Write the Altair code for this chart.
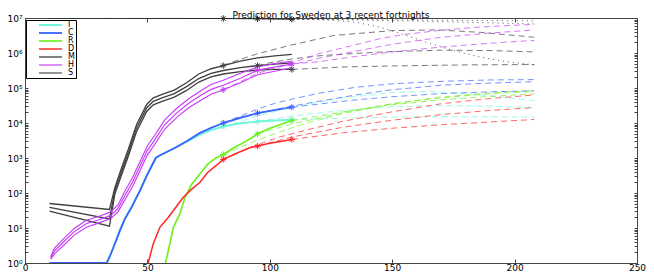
import altair as alt
import pandas as pd

# ---------------------------------------------------------------- categories
SERIES = ["I", "C", "R", "D", "M", "H", "S"]
COLORS = ["#6ff7dc", "#3a64ff", "#6ef020", "#ff2626", "#404040", "#c83cf8", "#2a2a2a"]
FIT_END = [81, 95, 109]
X_TICKS = [0, 50, 100, 150, 200, 250]
TITLE = "Prediction for Sweden at 3 recent fortnights"

# ---------------------------------------------------------------- solid curves
# values are read on the log axis (log10 of the count)
I_X = [10, 33.4, 35, 36.7, 38.8, 40.8, 43.5, 46.9, 49.7, 53.4, 55, 61, 66, 71.5, 76, 81, 88, 95, 102, 109]
I_LG = [0, 0, 0.25, 0.55, 0.93, 1.26, 1.59, 2.06, 2.49, 3.0, 3.07, 3.28, 3.46, 3.67, 3.8, 3.9, 3.99, 4.04, 4.07, 4.09]

C_X = [10, 33.4, 35, 36.7, 38.8, 40.8, 43.5, 46.9, 49.7, 53.4, 55, 61, 66, 71.3, 76, 81, 88, 95, 102, 109]
C_LG = [0, 0, 0.25, 0.55, 0.93, 1.26, 1.59, 2.06, 2.49, 3.0, 3.07, 3.28, 3.48, 3.71, 3.86, 4.0, 4.15, 4.28, 4.37, 4.45]

R_X = [57.4, 59.2, 60.6, 63.3, 65.3, 68.1, 71.4, 74.7, 78, 81, 85, 88, 92, 95, 100, 105, 109]
R_LG = [0, 0.56, 1.02, 1.41, 1.87, 2.25, 2.54, 2.83, 3.0, 3.1, 3.28, 3.39, 3.55, 3.69, 3.85, 3.97, 4.07]

D_X = [50.3, 52.4, 55.1, 58.5, 62, 64.6, 68.1, 71.4, 74.5, 78, 81, 86, 92, 95, 100, 105, 109]
D_LG = [0, 0.55, 1.02, 1.30, 1.63, 1.87, 2.11, 2.30, 2.58, 2.78, 2.96, 3.12, 3.3, 3.34, 3.42, 3.48, 3.53]

M_X = [10, 34.5, 36.7, 39.5, 42.2, 45.6, 49.7, 52.4, 56, 61, 66, 71, 76, 81, 88, 95, 102, 109]
M_TOP = [1.70, 1.53, 2.15, 2.73, 3.25, 3.96, 4.53, 4.72, 4.82, 4.94, 5.15, 5.40, 5.55, 5.64, 5.77, 5.86, 5.92, 5.96]
M_MID = [1.59, 1.26, 2.06, 2.63, 3.15, 3.86, 4.43, 4.62, 4.72, 4.84, 5.04, 5.27, 5.42, 5.50, 5.58, 5.64, 5.68, 5.72]
M_BOT = [1.48, 1.05, 1.97, 2.53, 3.05, 3.76, 4.33, 4.52, 4.62, 4.74, 4.93, 5.17, 5.32, 5.40, 5.47, 5.51, 5.53, 5.53]

H_X = [10.5, 12, 15, 20, 25, 30, 35, 38, 41, 44, 47, 50, 53, 57, 62, 67, 72, 76, 81, 88, 95, 102, 109]
H_TOP = [0.18, 0.42, 0.64, 0.98, 1.22, 1.33, 1.46, 1.66, 2.08, 2.45, 2.90, 3.35, 3.65, 4.08, 4.42, 4.70, 4.93, 5.10, 5.22, 5.42, 5.60, 5.70, 5.76]
H_MID = [0.14, 0.34, 0.55, 0.89, 1.12, 1.23, 1.36, 1.56, 1.95, 2.32, 2.77, 3.22, 3.52, 3.95, 4.29, 4.57, 4.80, 4.96, 5.08, 5.28, 5.51, 5.60, 5.68]
H_BOT = [0.10, 0.26, 0.45, 0.79, 1.02, 1.14, 1.27, 1.46, 1.83, 2.19, 2.64, 3.09, 3.39, 3.82, 4.16, 4.44, 4.66, 4.82, 4.95, 5.15, 5.38, 5.48, 5.58]

S_X = [10, 50, 81, 95, 109]
S_LG = [6.995, 6.993, 6.985, 6.978, 6.965]

# ---------------------------------------------------------------- predictions (one per fortnight)
I_P1_X = [81, 95, 109, 130, 150, 165, 180, 195, 208]
I_P1 = [3.9, 4.2, 4.45, 4.72, 4.87, 4.9, 4.84, 4.74, 4.64]
I_P2_X = [95, 109, 130, 150, 170, 190, 208]
I_P2 = [4.04, 4.2, 4.36, 4.46, 4.5, 4.48, 4.44]
I_P3_X = [109, 130, 150, 170, 190, 208]
I_P3 = [4.09, 4.14, 4.17, 4.18, 4.18, 4.17]

C_P1_X = [81, 88, 95, 102, 109, 120, 135, 150, 170, 190, 208]
C_P1 = [4.0, 4.2, 4.4, 4.56, 4.68, 4.85, 5.02, 5.12, 5.19, 5.23, 5.24]
C_P2_X = [95, 102, 109, 120, 135, 150, 170, 190, 208]
C_P2 = [4.28, 4.38, 4.48, 4.62, 4.8, 4.95, 5.08, 5.14, 5.18]
C_P3_X = [109, 120, 135, 150, 170, 190, 208]
C_P3 = [4.45, 4.54, 4.66, 4.75, 4.84, 4.89, 4.92]

R_P1_X = [81, 92, 103, 115, 130, 150, 170, 190, 208]
R_P1 = [3.1, 3.43, 3.72, 4.0, 4.27, 4.55, 4.74, 4.86, 4.93]
R_P2_X = [95, 109, 130, 150, 170, 190, 208]
R_P2 = [3.69, 3.97, 4.3, 4.55, 4.72, 4.84, 4.9]
R_P3_X = [109, 130, 150, 170, 190, 208]
R_P3 = [4.07, 4.32, 4.52, 4.66, 4.76, 4.83]

D_P1_X = [81, 92, 103, 116, 130, 150, 170, 190, 208]
D_P1 = [2.96, 3.3, 3.58, 3.82, 4.05, 4.32, 4.55, 4.7, 4.8]
D_P2_X = [95, 109, 130, 150, 170, 190, 208]
D_P2 = [3.34, 3.6, 3.88, 4.08, 4.24, 4.36, 4.44]
D_P3_X = [109, 130, 150, 170, 190, 208]
D_P3 = [3.53, 3.72, 3.85, 3.95, 4.03, 4.1]

M_P1_X = [81, 85, 95, 109, 126, 150, 169, 186, 208]
M_P1 = [5.64, 5.75, 5.98, 6.23, 6.5, 6.64, 6.66, 6.59, 6.45]
M_P2_X = [95, 100, 109, 120, 135, 150, 170, 190, 208]
M_P2 = [5.64, 5.72, 5.83, 5.92, 5.99, 6.04, 6.08, 6.07, 6.03]
M_P3_X = [109, 130, 150, 180, 208]
M_P3 = [5.53, 5.6, 5.63, 5.66, 5.67]

H_P1_X = [81, 95, 109, 120, 133, 145, 155, 170, 185, 208]
H_P1 = [4.95, 5.42, 5.72, 5.98, 6.2, 6.41, 6.53, 6.65, 6.74, 6.82]
H_P2_X = [95, 109, 120, 135, 150, 170, 190, 208]
H_P2 = [5.51, 5.66, 5.85, 6.05, 6.25, 6.45, 6.57, 6.66]
H_P3_X = [109, 120, 135, 150, 170, 190, 208]
H_P3 = [5.69, 5.75, 5.9, 6.03, 6.17, 6.28, 6.36]

S_P1_X = [81, 109, 125, 135, 145, 155, 165, 175, 185, 195, 208]
S_P1 = [6.985, 6.97, 6.94, 6.88, 6.74, 6.52, 6.28, 6.07, 5.9, 5.77, 5.66]
S_P2_X = [95, 130, 160, 185, 208]
S_P2 = [6.978, 6.95, 6.91, 6.87, 6.83]
S_P3_X = [109, 150, 180, 208]
S_P3 = [6.965, 6.95, 6.93, 6.92]

# ---------------------------------------------------------------- markers at the fortnight ends
MARK_I = [3.9, 4.04, 4.09]
MARK_C = [4.0, 4.28, 4.45]
MARK_R = [3.1, 3.69, 4.07]
MARK_D = [2.96, 3.34, 3.53]
MARK_M = [5.64, 5.64, 5.53]
MARK_H = [4.95, 5.51, 5.69]
MARK_S = [6.985, 6.978, 6.965]

# ---------------------------------------------------------------- build tables
def curve_rows(series, curve, xs, lgs):
    return [{"x": x, "v": 10 ** lg, "series": series, "curve": curve} for x, lg in zip(xs, lgs)]

solid_rows = []
solid_rows += curve_rows("I", "I0", I_X, I_LG)
solid_rows += curve_rows("C", "C0", C_X, C_LG)
solid_rows += curve_rows("R", "R0", R_X, R_LG)
solid_rows += curve_rows("D", "D0", D_X, D_LG)
solid_rows += curve_rows("M", "M1", M_X, M_TOP)
solid_rows += curve_rows("M", "M2", M_X, M_MID)
solid_rows += curve_rows("M", "M3", M_X, M_BOT)
solid_rows += curve_rows("H", "H1", H_X, H_TOP)
solid_rows += curve_rows("H", "H2", H_X, H_MID)
solid_rows += curve_rows("H", "H3", H_X, H_BOT)
solid_rows += curve_rows("S", "S0", S_X, S_LG)
solid_df = pd.DataFrame(solid_rows)

dash_rows = []
for s, pairs in [
    ("I", [(I_P1_X, I_P1), (I_P2_X, I_P2), (I_P3_X, I_P3)]),
    ("C", [(C_P1_X, C_P1), (C_P2_X, C_P2), (C_P3_X, C_P3)]),
    ("R", [(R_P1_X, R_P1), (R_P2_X, R_P2), (R_P3_X, R_P3)]),
    ("D", [(D_P1_X, D_P1), (D_P2_X, D_P2), (D_P3_X, D_P3)]),
    ("M", [(M_P1_X, M_P1), (M_P2_X, M_P2), (M_P3_X, M_P3)]),
    ("H", [(H_P1_X, H_P1), (H_P2_X, H_P2), (H_P3_X, H_P3)]),
]:
    for k, (xs, lgs) in enumerate(pairs):
        dash_rows += curve_rows(s, f"{s}p{k}", xs, lgs)
dash_df = pd.DataFrame(dash_rows)

dot_rows = []
for k, (xs, lgs) in enumerate([(S_P1_X, S_P1), (S_P2_X, S_P2), (S_P3_X, S_P3)]):
    dot_rows += curve_rows("S", f"Sp{k}", xs, lgs)
dot_df = pd.DataFrame(dot_rows)

mark_rows = []
for s, vals in zip(SERIES, [MARK_I, MARK_C, MARK_R, MARK_D, MARK_M, MARK_H, MARK_S]):
    for x, lg in zip(FIT_END, vals):
        mark_rows.append({"x": x, "v": 10 ** lg, "series": s})
mark_df = pd.DataFrame(mark_rows)

# ---------------------------------------------------------------- scales & axes
FONT = "DejaVu Sans"
x_scale = alt.Scale(domain=[0, 250], nice=False, zero=False)
y_scale = alt.Scale(type="log", domain=[1, 1e7], nice=False)
color_scale = alt.Scale(domain=SERIES, range=COLORS)

Y_ALL = [m * 10 ** k for k in range(7) for m in range(1, 10)] + [10 ** 7]
is_major = "abs(log(datum.value)/LN10 - round(log(datum.value)/LN10)) < 0.001"
y_label_expr = (is_major + " ? '10' + ['\u2070','\u00b9','\u00b2','\u00b3','\u2074','\u2075','\u2076','\u2077']"
                "[round(log(datum.value)/LN10)] : ''")

left_axis = alt.Axis(orient="left", values=Y_ALL, labelExpr=y_label_expr, title=None,
                     tickSize=alt.ExprRef(expr="-3"), labelPadding=6, domain=False, grid=False,
                     labelFont=FONT, labelFontSize=9, labelColor="black", tickColor="#444",
                     labelOverlap=False, labelBound=False, labelFlush=False)
bottom_axis = alt.Axis(orient="bottom", values=X_TICKS, title=None,
                       tickSize=alt.ExprRef(expr="-4"), labelPadding=4, domain=False, grid=False,
                       labelFont=FONT, labelFontSize=9, labelColor="black", tickColor="#444",
                       labelFlush=False, labelOverlap=False)
right_axis = alt.Axis(orient="right", values=Y_ALL, labels=False, title=None,
                      tickSize=alt.ExprRef(expr="-3"), domain=False, grid=False, tickColor="#444")
top_axis = alt.Axis(orient="top", values=X_TICKS, labels=False, title=None,
                    tickSize=alt.ExprRef(expr="-4"), domain=False, grid=False, tickColor="#444")

legend = alt.Legend(title=None, orient="none", legendX=1, legendY=2,
                    symbolType="M-3.83,0H3.83", symbolSize=36, symbolStrokeWidth=1,
                    symbolOffset=19.5, labelOffset=13.5, labelFont=FONT, labelFontSize=8,
                    labelColor="black", fillColor="white", strokeColor="black",
                    padding=1, rowPadding=0,
                    labelExpr="datum.label + '\u00a0\u00a0\u00a0\u00a0\u00a0\u00a0'")

solid = alt.Chart(solid_df).mark_line(clip=True).encode(
    x=alt.X("x:Q", scale=x_scale, axis=bottom_axis),
    y=alt.Y("v:Q", scale=y_scale, axis=left_axis),
    color=alt.Color("series:N", scale=color_scale, legend=legend),
    strokeWidth=alt.StrokeWidth("series:N", scale=alt.Scale(domain=SERIES, range=[2, 1, 2.6, 1, 1, 1, 1]), legend=None),
    detail="curve:N",
)

dashed = alt.Chart(dash_df).mark_line(clip=True, strokeDash=[6, 4], strokeWidth=1, opacity=0.7).encode(
    x=alt.X("x:Q", scale=x_scale, axis=None),
    y=alt.Y("v:Q", scale=y_scale, axis=None),
    color=alt.Color("series:N", scale=color_scale, legend=None),
    detail="curve:N",
)

dotted = alt.Chart(dot_df).mark_line(clip=True, strokeDash=[1, 4], strokeWidth=1, opacity=0.8).encode(
    x=alt.X("x:Q", scale=x_scale, axis=None),
    y=alt.Y("v:Q", scale=y_scale, axis=None),
    color=alt.Color("series:N", scale=color_scale, legend=None),
    detail="curve:N",
)

ASTERISK = "M-1,0L1,0M0,-1L0,1M-0.7,-0.7L0.7,0.7M-0.7,0.7L0.7,-0.7"
markers = alt.Chart(mark_df).mark_point(shape=ASTERISK, filled=False, size=40, strokeWidth=1, opacity=1).encode(
    x=alt.X("x:Q", scale=x_scale, axis=None),
    y=alt.Y("v:Q", scale=y_scale, axis=None),
    color=alt.Color("series:N", scale=color_scale, legend=None),
)

frame = alt.Chart(mark_df).mark_point(opacity=0).encode(
    x=alt.X("x:Q", scale=x_scale, axis=top_axis),
    y=alt.Y("v:Q", scale=y_scale, axis=right_axis),
)

chart = alt.layer(solid, dashed, dotted, markers, frame).resolve_axis(
    x="independent", y="independent"
).properties(
    width=612, height=245,
    title=alt.Title(TITLE, fontSize=9, font=FONT, fontWeight="normal", color="black",
                    offset=-6.6, anchor="middle"),
    autosize=alt.AutoSizeParams(type="none"),
    padding={"left": 17, "top": 10, "right": 9, "bottom": 12},
).configure_view(stroke="#444", strokeWidth=1)

chart.save("out.html", embed_options={"renderer": "svg", "actions": False})
